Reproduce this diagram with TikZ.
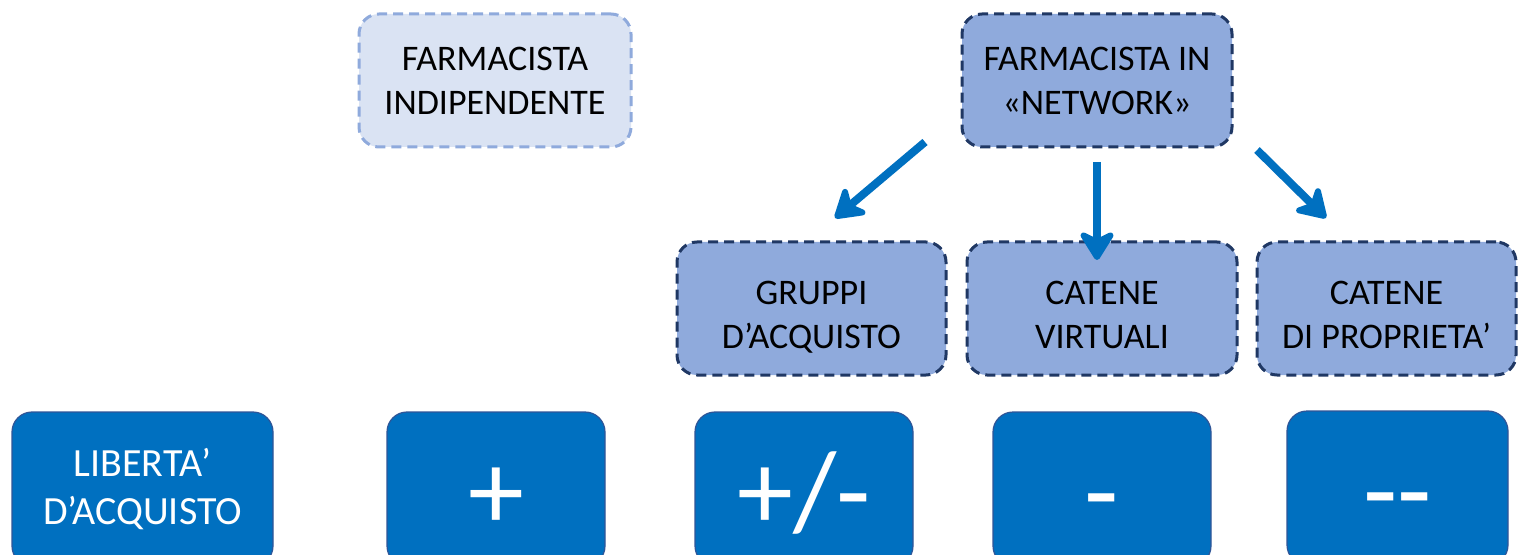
\documentclass[tikz,border=0pt]{standalone}
\usepackage{fontspec}
\setmainfont{Carlito}
\usetikzlibrary{arrows.meta}
\definecolor{lightfill}{HTML}{DAE3F3}
\definecolor{lightborder}{HTML}{8FAADC}
\definecolor{midfill}{HTML}{8FAADC}
\definecolor{darkborder}{HTML}{203864}
\definecolor{strongfill}{HTML}{0070C0}
\definecolor{strongborder}{HTML}{2F5597}
\definecolor{arrowblue}{HTML}{0070C0}
\tikzset{
  boxbase/.style={rectangle, rounded corners=10pt, align=center, inner sep=0pt,
    font=\fontsize{18pt}{22pt}\selectfont},
  lightbox/.style={boxbase, fill=lightfill, draw=lightborder, line width=1.5pt,
    dash pattern=on 5pt off 3pt, minimum width=136pt, minimum height=66.5pt},
  netbox/.style={boxbase, fill=midfill, draw=darkborder, line width=1.5pt,
    dash pattern=on 5pt off 3pt, minimum height=66.5pt},
  lowtext/.style={text height=40pt, text depth=0pt},
  valbox/.style={boxbase, fill=strongfill, draw=strongborder, line width=0.6pt,
    text=white, minimum height=77pt},
  symtext/.style={font=\fontsize{56pt}{60pt}\selectfont, text height=40pt, text depth=0pt},
  bigarrow/.style={draw=arrowblue, line width=4pt,
    -{Stealth[length=17pt, width=21pt, inset=5pt, round]}}
}
\begin{document}
\begin{tikzpicture}[x=0.5pt, y=-0.5pt]
\useasboundingbox (0,0) rectangle (1519,555);
% top row
\node[lightbox] (ind) at (495,80.5) {FARMACISTA\\INDIPENDENTE};
\node[netbox, minimum width=135pt] (net) at (1097,80.5) {FARMACISTA IN\\«NETWORK»};
% middle row
\node[netbox, lowtext, minimum width=134.5pt] (grp) at (811.5,308.5) {GRUPPI\\D’ACQUISTO};
\node[netbox, lowtext, minimum width=135pt] (virt) at (1102,308.5) {CATENE\\VIRTUALI};
\node[netbox, lowtext, minimum width=129.5pt] (prop) at (1386.5,308.5) {CATENE\\DI PROPRIETA’};
% bottom row
\node[valbox, minimum width=130.5pt, font=\fontsize{20pt}{24pt}\selectfont] (lib) at (142.5,489) {LIBERTA’\\D’ACQUISTO};
\node[valbox, minimum width=109pt, symtext] (plus) at (496,489) {+};
\node[valbox, minimum width=109pt, symtext] (pm) at (804,489) {+/-};
\node[valbox, minimum width=109pt, symtext] (minus) at (1102,489) {-};
\node[valbox, minimum width=110.5pt, symtext] (mm) at (1397.5,488) {-{}-};
% arrows
\coordinate (a1s) at (925,142);
\coordinate (a1e) at (835,218);
\coordinate (a2s) at (1097,162);
\coordinate (a2e) at (1097,260);
\coordinate (a3s) at (1257,150);
\coordinate (a3e) at (1326,218);
\draw[bigarrow] (a1s) -- (a1e);
\draw[bigarrow] (a2s) -- (a2e);
\draw[bigarrow] (a3s) -- (a3e);
\end{tikzpicture}
\end{document}
